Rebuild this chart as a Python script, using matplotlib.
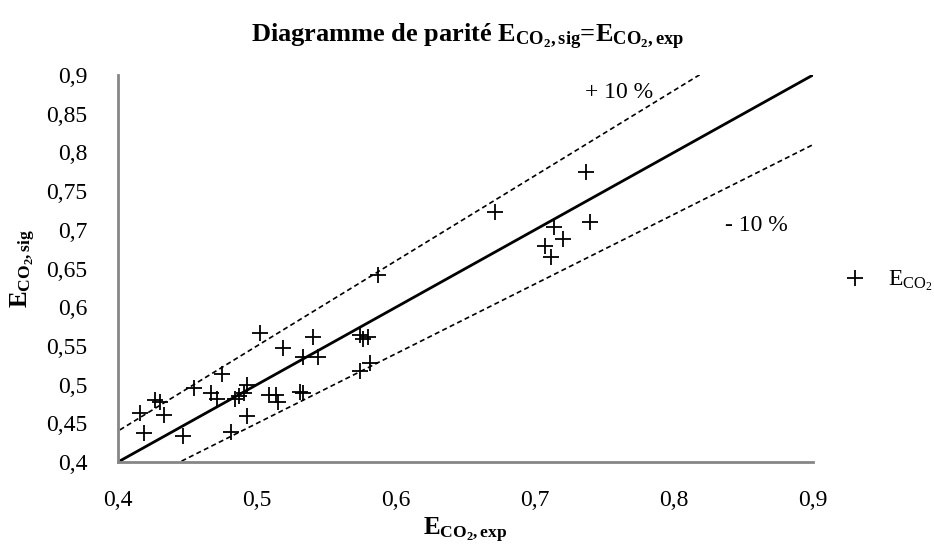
import matplotlib
matplotlib.use("Agg")
import matplotlib.pyplot as plt
import numpy as np

# experimental values (x) and model values (y) for E_CO2
e_exp = [0.416, 0.419, 0.427, 0.430, 0.433, 0.447, 0.455, 0.467, 0.471, 0.475,
         0.484, 0.487, 0.493, 0.491, 0.493, 0.481, 0.502, 0.509, 0.5135, 0.515,
         0.519, 0.531, 0.533, 0.533, 0.5405, 0.544, 0.574, 0.5765, 0.580, 0.574,
         0.581, 0.587, 0.671, 0.707, 0.7115, 0.714, 0.720, 0.737, 0.7396]
e_sig = [0.463, 0.438, 0.480, 0.477, 0.461, 0.434, 0.495, 0.489, 0.482, 0.514,
         0.482, 0.485, 0.500, 0.489, 0.459, 0.439, 0.567, 0.487, 0.487, 0.477,
         0.547, 0.491, 0.489, 0.536, 0.562, 0.536, 0.564, 0.5585, 0.562, 0.517,
         0.5275, 0.641, 0.723, 0.679, 0.6645, 0.704, 0.688, 0.775, 0.710]

# parity line and +/- 10 % lines
line_x = np.array([0.0, 1.0])
ratios = [1.1, 1.0, 0.9]

x_ticks = [0.4, 0.5, 0.6, 0.7, 0.8, 0.9]
y_ticks = [0.4, 0.45, 0.5, 0.55, 0.6, 0.65, 0.7, 0.75, 0.8, 0.85, 0.9]

plt.rcParams['font.family'] = ['Liberation Serif', 'DejaVu Serif']
plt.rcParams['mathtext.fontset'] = 'custom'
plt.rcParams['mathtext.rm'] = 'Liberation Serif'
plt.rcParams['mathtext.it'] = 'Liberation Serif'
plt.rcParams['mathtext.bf'] = 'Liberation Serif:bold'

fig = plt.figure(figsize=(9.34, 5.46), dpi=100)
ax = fig.add_axes([0.1263, 0.1538, 0.7441, 0.7088])

for r in ratios:
    if r == 1.0:
        ax.plot(line_x, r * line_x, color='black', lw=2, zorder=2)
    else:
        ax.plot(line_x, r * line_x, color='black', lw=1.2, dashes=(3, 2), zorder=2)

ax.plot(e_exp, e_sig, linestyle='none', marker='+', color='black',
        markersize=11, markeredgewidth=1.3, label=r'$\mathregular{E_{CO_2}}$', zorder=3)

ax.set_xlim(0.4, 0.9)
ax.set_ylim(0.4, 0.9)
ax.set_xticks(x_ticks)
ax.set_yticks(y_ticks)
ax.set_xticklabels([str(t).replace('.', ',') for t in x_ticks])
ax.set_yticklabels([str(t).replace('.', ',') for t in y_ticks])
ax.tick_params(length=0, labelsize=17)
ax.tick_params(axis='y', pad=22)
ax.tick_params(axis='x', pad=20)

for s in ['top', 'right']:
    ax.spines[s].set_visible(False)
for s in ['left', 'bottom']:
    ax.spines[s].set_color('#868686')
    ax.spines[s].set_linewidth(2)

ax.text(0.736, 0.877, '+ 10 %', fontsize=17, va='center')
ax.text(0.837, 0.706, '- 10 %', fontsize=17, va='center')

ax.set_xlabel(r'$\mathbf{E_{CO_2,exp}}$', fontsize=18, labelpad=4)
ax.set_ylabel(r'$\mathbf{E_{CO_2,sig}}$', fontsize=18, labelpad=6)

fig.text(0.5, 1 - 37 / 546, r'Diagramme de parité $\mathbf{E_{CO_2,sig}}$=$\mathbf{E_{CO_2,exp}}$',
         ha='center', va='center', fontsize=19, fontweight='bold')

ax.legend(loc='center right', bbox_to_anchor=(0.999, 0.485), bbox_transform=fig.transFigure,
          frameon=False, fontsize=17, handlelength=1.0, handletextpad=0.9,
          borderpad=0, borderaxespad=0)

fig.savefig('out.png', dpi=100)
